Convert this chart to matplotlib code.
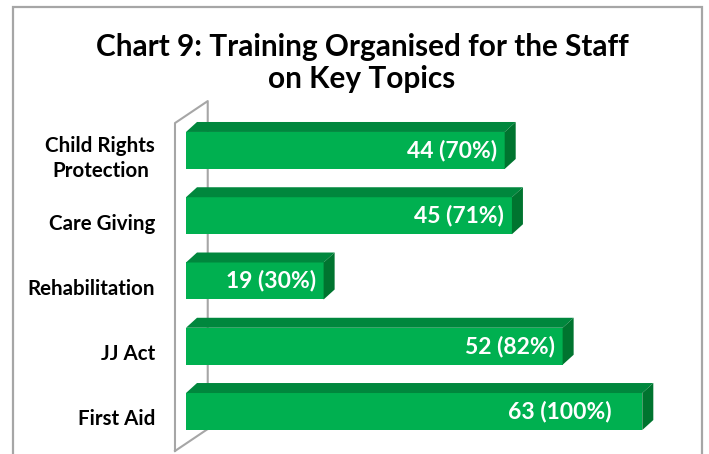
import matplotlib
matplotlib.use("Agg")
import matplotlib.pyplot as plt
from matplotlib.patches import Polygon, Rectangle

# data (top to bottom as in the chart)
topics = ["Child Rights\nProtection", "Care Giving", "Rehabilitation", "JJ Act", "First Aid"]
counts = [44, 45, 19, 52, 63]
percents = [70, 71, 30, 82, 100]

plt.rcParams['font.family'] = ['Lato', 'DejaVu Sans']

FRONT = '#00b050'
TOP = '#00873d'
SIDE = '#00742f'
WALL = '#a6a6a6'

W, H = 709, 454
fig = plt.figure(figsize=(W / 100, H / 100), dpi=100)

# axes placed so that value 0 sits at the front-left edge of the bars
ax = fig.add_axes([186 / W, 0, 507 / W, 359 / H])
ax.set_xlim(0, 70)
ax.set_ylim(-0.651, 4.85)
ax.axis('off')

n = len(topics)
ypos = [n - 1 - i for i in range(n)]
h = 0.567          # bar thickness
dx, dy = 1.52, 0.153   # 3d depth of the bars

# back wall (drawn behind the bars)
wx0, wx1, wdy = -1.52, 3.0, 0.337
wall_top, wall_bot = 4.42, -0.605
ax.plot([wx0, wx0, wx1, wx1], [wall_bot, wall_top, wall_top + wdy, wall_bot + wdy],
        color=WALL, lw=1.5, clip_on=False, zorder=1)
ax.plot([wx0, wx1], [wall_bot, wall_bot + wdy], color=WALL, lw=1.5, clip_on=False, zorder=1)

ax.barh(ypos, counts, height=h, color=FRONT, zorder=3)

for y, c, p, lab in zip(ypos, counts, percents, topics):
    top = Polygon([(0, y + h / 2), (dx, y + h / 2 + dy), (c + dx, y + h / 2 + dy), (c, y + h / 2)],
                  closed=True, facecolor=TOP, edgecolor='none', zorder=3)
    side = Polygon([(c, y - h / 2), (c, y + h / 2), (c + dx, y + h / 2 + dy), (c + dx, y - h / 2 + dy)],
                   closed=True, facecolor=SIDE, edgecolor='none', zorder=3)
    ax.add_patch(top)
    ax.add_patch(side)
    off = 4.2 if p == 100 else 1.1
    ax.text(c - off, y, f"{c} ({p}%)", ha='right', va='center', color='white',
            fontsize=16.5, fontweight='bold', zorder=4)
    ax.text(-4.25, y - 0.12, lab, ha='right', va='center', color='black',
            fontsize=14.8, fontweight='bold', linespacing=1.3, multialignment='center',
            clip_on=False)

fig.text(362 / W, 1 - 63 / H, "Chart 9: Training Organised for the Staff\non Key Topics",
         ha='center', va='center', fontsize=21.4, fontweight='bold', linespacing=1.2)

# chart frame
fig.add_artist(Rectangle((13 / W, -0.05), 689 / W, 1.05 - 7 / H, transform=fig.transFigure,
                         fill=False, edgecolor=WALL, lw=1.6))

fig.savefig('out.png', dpi=100)
